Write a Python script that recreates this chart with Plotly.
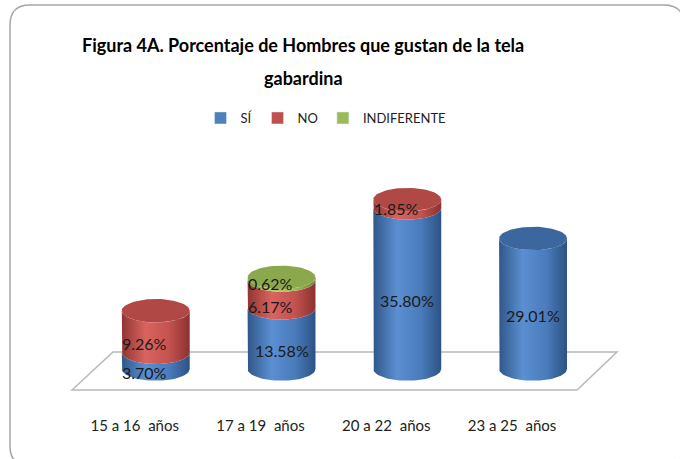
import numpy as np
import plotly.graph_objects as go

# ---------------- data ----------------
categories = ["15 a 16  años", "17 a 19  años", "20 a 22  años", "23 a 25  años"]
series_names = ["SÍ", "NO", "INDIFERENTE"]
si_values = [3.70, 13.58, 35.80, 29.01]
no_values = [9.26, 6.17, 1.85, 0.0]
indif_values = [0.0, 0.62, 0.0, 0.0]
title_line1 = "Figura 4A. Porcentaje de Hombres que gustan de la tela"
title_line2 = "gabardina"

# ---------------- style ----------------
FONT = "Lato"
W, H = 680, 459
ML, MR, MT, MB = 30, 30, 100, 50
PX_PER_UNIT = 4.5
ZERO_PX = 369
X_RANGE = [-1.0, 3.93]
Y_RANGE = [-(H - MB - ZERO_PX) / PX_PER_UNIT, (ZERO_PX - MT) / PX_PER_UNIT]
RX = 0.27      # cylinder half-width (x units)
RY = 2.6       # ellipse half-height (y units)
TICK_OFFSET = -0.167   # category labels sit at the front edge of the 3D floor

side_scales = {
    "SÍ": [[0, "#30578a"], [0.35, "#5b8fd2"], [0.7, "#4a7bbb"], [1, "#2c5284"]],
    "NO": [[0, "#8f3532"], [0.35, "#d9635f"], [0.7, "#c4524f"], [1, "#8a3230"]],
    "INDIFERENTE": [[0, "#6f8a3a"], [0.35, "#b0d06a"], [0.7, "#9bbb59"], [1, "#6a8537"]],
}
cap_colors = {"SÍ": "#3c679e", "NO": "#b04845", "INDIFERENTE": "#8ba94c"}
legend_colors = {"SÍ": "#4f81bd", "NO": "#c0504d", "INDIFERENTE": "#9bbb59"}

fig = go.Figure()

t_lo = np.linspace(np.pi, 2 * np.pi, 40)
t_full = np.linspace(0, 2 * np.pi, 80)

all_series = [si_values, no_values, indif_values]
label_ann = []
for i, cat in enumerate(categories):
    base = 0.0
    top_name = None
    segs = []
    for name, vals in zip(series_names, all_series):
        v = vals[i]
        if v <= 0:
            continue
        y0, y1 = base, base + v
        xs = [i - RX, i - RX]
        ys = [y1, y0]
        xs += list(i + RX * np.cos(t_lo))
        ys += list(y0 + RY * np.sin(t_lo))
        xs += [i + RX, i + RX]
        ys += [y0, y1]
        xs += list(i + RX * np.cos(t_lo[::-1]))
        ys += list(y1 + RY * np.sin(t_lo[::-1]))
        fig.add_trace(go.Scatter(
            x=xs, y=ys, mode="lines", fill="toself",
            line=dict(width=0, color=legend_colors[name]),
            fillgradient=dict(type="horizontal", colorscale=side_scales[name]),
            showlegend=False, hoverinfo="skip"))
        segs.append([i, (y0 + y1) / 2, v, False])
        base = y1
        top_name = name
    if segs:
        segs[-1][3] = True
    label_ann += segs
    if top_name is not None:
        fig.add_trace(go.Scatter(
            x=list(i + RX * np.cos(t_full)), y=list(base + RY * np.sin(t_full)),
            mode="lines", fill="toself",
            line=dict(width=0, color=cap_colors[top_name]),
            fillcolor=cap_colors[top_name],
            showlegend=False, hoverinfo="skip"))

# legend entries
for name in series_names:
    fig.add_trace(go.Bar(x=[None], y=[None], name=name,
                         marker=dict(color=legend_colors[name])))

# data labels
for i, ymid, v, is_top in label_ann:
    small = v < 10
    yshift = -5 if (is_top and v < 3) else -12
    fig.add_annotation(x=i, y=ymid, xref="x", yref="y",
                       text=f"{v:.2f}%", showarrow=False,
                       xshift=-11 if small else 0, yshift=yshift,
                       font=dict(family=FONT, size=16, color="#1a1a1a"))

# floor (parallelogram), in data coordinates
def dy(p):
    return (ZERO_PX - p) / PX_PER_UNIT
def dx(p):
    return X_RANGE[0] + (p - ML) / (W - ML - MR) * (X_RANGE[1] - X_RANGE[0])
floor_px = [(72, 390), (113, 352), (617, 352), (577, 390)]
path = "M " + " L ".join(f"{dx(a)} {dy(b)}" for a, b in floor_px) + " Z"
fig.add_shape(type="path", path=path, xref="x", yref="y", layer="below",
              line=dict(color="#b8b8b8", width=1.5), fillcolor="white")

# outer rounded border (paper coords computed from pixels)
PW, PH = W - ML - MR, H - MT - MB
def px(x):
    return (x - ML) / PW
def py(y):
    return (H - MB - y) / PH
r = 20
x0b, y0b, x1b, y1b = 10, 5, 684, 466
border = (f"M {px(x0b + r)} {py(y0b)} L {px(x1b - r)} {py(y0b)} "
          f"Q {px(x1b)} {py(y0b)} {px(x1b)} {py(y0b + r)} "
          f"L {px(x1b)} {py(y1b - r)} Q {px(x1b)} {py(y1b)} {px(x1b - r)} {py(y1b)} "
          f"L {px(x0b + r)} {py(y1b)} Q {px(x0b)} {py(y1b)} {px(x0b)} {py(y1b - r)} "
          f"L {px(x0b)} {py(y0b + r)} Q {px(x0b)} {py(y0b)} {px(x0b + r)} {py(y0b)} Z")
fig.add_shape(type="path", path=border, xref="paper", yref="paper", layer="below",
              line=dict(color="#a6a6a6", width=1.5))

# title (two lines)
for txt, ypx in [(title_line1, 45), (title_line2, 78)]:
    fig.add_annotation(x=px(303), y=py(ypx), xref="paper", yref="paper",
                       xanchor="center", yanchor="middle",
                       text=f"<b>{txt}</b>", showarrow=False,
                       font=dict(family=FONT, size=18, color="black"))

fig.update_layout(
    width=W, height=H,
    margin=dict(l=ML, r=MR, t=MT, b=MB),
    paper_bgcolor="white", plot_bgcolor="rgba(0,0,0,0)",
    showlegend=True,
    legend=dict(orientation="h", x=px(326), xanchor="center",
                y=py(118), yanchor="middle",
                font=dict(family=FONT, size=13, color="#222"),
                itemwidth=30, traceorder="normal"),
    xaxis=dict(range=X_RANGE,
               tickvals=[k + TICK_OFFSET for k in range(len(categories))],
               ticktext=categories, showgrid=False, zeroline=False,
               showline=False, ticks="", ticklabelstandoff=6,
               tickfont=dict(family=FONT, size=15, color="#222"),
               fixedrange=True),
    yaxis=dict(range=Y_RANGE, visible=False, fixedrange=True),
    font=dict(family=FONT),
)

fig.write_html("out.html",
               config={"displayModeBar": False},
               post_script="document.body.style.margin='0';document.body.style.overflow='hidden';")
